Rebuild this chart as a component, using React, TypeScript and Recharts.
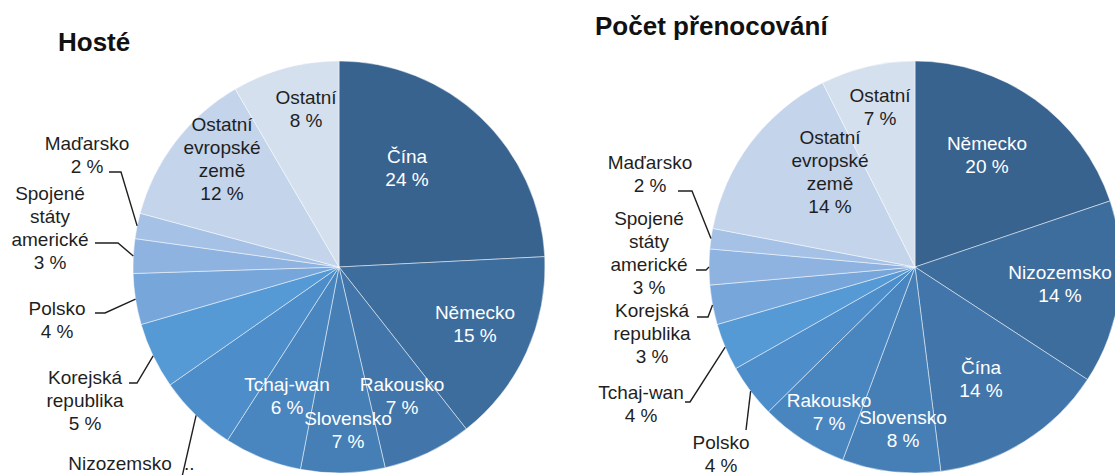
import React from 'react';
import { PieChart, Pie, Cell } from 'recharts';

// Hosté (guests), clockwise from 12 o'clock
const guestNames = [
  'Čína', 'Německo', 'Rakousko', 'Slovensko', 'Tchaj-wan', 'Nizozemsko',
  'Korejská republika', 'Polsko', 'Spojené státy americké', 'Maďarsko',
  'Ostatní evropské země', 'Ostatní',
];
const guestValues = [24.2, 15.2, 7.0, 6.6, 6.1, 6.2, 5.2, 4.0, 2.7, 2.0, 12.4, 8.4];
const guestPct = [24, 15, 7, 7, 6, 6, 5, 4, 3, 2, 12, 8];

// Počet přenocování (overnight stays)
const nightNames = [
  'Německo', 'Nizozemsko', 'Čína', 'Slovensko', 'Rakousko', 'Polsko',
  'Tchaj-wan', 'Korejská republika', 'Spojené státy americké', 'Maďarsko',
  'Ostatní evropské země', 'Ostatní',
];
const nightValues = [19.8, 14.4, 13.8, 7.7, 6.9, 4.2, 3.7, 3.1, 2.8, 1.6, 14.6, 7.4];
const nightPct = [20, 14, 14, 8, 7, 4, 4, 3, 3, 2, 14, 7];

const sliceColors = [
  '#38638f', '#3d6d9d', '#4276aa', '#457fb6', '#4986c0', '#4d8eca',
  '#5599d5', '#77a6db', '#8fb3e0', '#a5c1e6', '#c3d4eb', '#d5e0ef',
];

const FONT = '"Liberation Sans", Arial, sans-serif';
const LINE_H = 23;
const R = 206;
const DARK = '#1f1f1f';

type LabelPos = { dx: number; dy: number; out?: boolean; dark?: boolean; hook?: number[][]; clip?: boolean };

// label anchors relative to the pie centre
const guestLayout: LabelPos[] = [
  { dx: 68, dy: -111 },
  { dx: 136, dy: 45 },
  { dx: 63, dy: 117 },
  { dx: 9, dy: 151 },
  { dx: -52, dy: 117 },
  { dx: -219, dy: 196, out: true, clip: true, hook: [[-157, 210]] },
  { dx: -254, dy: 110, out: true, hook: [[-210, 116], [-202, 116]] },
  { dx: -282, dy: 41, out: true, hook: [[-244, 46], [-234, 46]] },
  { dx: -289, dy: -74, out: true, hook: [[-244, -24], [-221, -24]] },
  { dx: -252, dy: -124, out: true, hook: [[-230, -95], [-218, -95]] },
  { dx: -117, dy: -143, dark: true },
  { dx: -33, dy: -170, dark: true },
];

const nightLayout: LabelPos[] = [
  { dx: 72, dy: -124 },
  { dx: 145, dy: 5 },
  { dx: 66, dy: 100 },
  { dx: -12, dy: 150 },
  { dx: -86, dy: 133 },
  { dx: -194, dy: 175, out: true, hook: [[-169, 163]] },
  { dx: -274, dy: 125, out: true, hook: [[-230, 135], [-225, 135]] },
  { dx: -263, dy: 43, out: true, hook: [[-218, 50], [-207, 50]] },
  { dx: -266, dy: -49, out: true, hook: [[-219, 3], [-209, 3]] },
  { dx: -265, dy: -105, out: true, hook: [[-237, -76], [-223, -76]] },
  { dx: -85, dy: -130, dark: true },
  { dx: -35, dy: -172, dark: true },
];

const RAD = Math.PI / 180;

const makeLabel = (layout: LabelPos[], pct: number[]) => (props: any) => {
  const { cx, cy, midAngle, outerRadius, index, name } = props;
  const pos = layout[index];
  const x = cx + pos.dx;
  const y = cy + pos.dy;
  const lines: string[] = pos.clip ? [name] : [...String(name).split(' '), `${pct[index]} %`];
  const color = pos.out || pos.dark ? DARK : '#ffffff';
  let leader = null;
  if (pos.out && pos.hook) {
    const ex = cx + outerRadius * Math.cos(-midAngle * RAD);
    const ey = cy + outerRadius * Math.sin(-midAngle * RAD);
    const pts = [...pos.hook.map(([hx, hy]) => `${cx + hx},${cy + hy}`), `${ex},${ey}`].join(' ');
    leader = <polyline points={pts} fill="none" stroke={DARK} strokeWidth={1.4} />;
  }
  return (
    <g key={`lbl-${index}`}>
      {leader}
      <text x={x} y={y} fill={color} textAnchor="middle" fontFamily={FONT} fontSize={19}>
        {lines.map((t, i) => (
          <tspan key={i} x={x} y={y + i * LINE_H} dy="0.35em">{t}</tspan>
        ))}
      </text>
      {pos.clip && (
        <text x={cx - 155} y={y} dy="0.35em" fill={color} fontFamily={FONT} fontSize={19}>..</text>
      )}
    </g>
  );
};

const guestData = guestNames.map((name, i) => ({ name, value: guestValues[i] }));
const nightData = nightNames.map((name, i) => ({ name, value: nightValues[i] }));

const titleStyle: React.CSSProperties = {
  position: 'absolute',
  fontFamily: FONT,
  fontWeight: 'bold',
  fontSize: 26,
  lineHeight: '26px',
  color: '#111',
  whiteSpace: 'nowrap',
};

export default function App() {
  return (
    <div style={{ position: 'absolute', left: 0, top: 0, width: 1115, height: 475, overflow: 'hidden', background: '#fff' }}>
      <PieChart width={1115} height={475} margin={{ top: 0, right: 0, bottom: 0, left: 0 }}>
        <Pie
          data={guestData}
          dataKey="value"
          nameKey="name"
          cx={339}
          cy={267}
          outerRadius={R}
          startAngle={90}
          endAngle={-270}
          stroke="#ffffff"
          strokeWidth={0.8}
          strokeOpacity={0.6}
          label={makeLabel(guestLayout, guestPct)}
          labelLine={false}
          isAnimationActive={false}
        >
          {guestData.map((d, i) => <Cell key={d.name} fill={sliceColors[i]} />)}
        </Pie>
        <Pie
          data={nightData}
          dataKey="value"
          nameKey="name"
          cx={915}
          cy={267}
          outerRadius={R}
          startAngle={90}
          endAngle={-270}
          stroke="#ffffff"
          strokeWidth={0.8}
          strokeOpacity={0.6}
          label={makeLabel(nightLayout, nightPct)}
          labelLine={false}
          isAnimationActive={false}
        >
          {nightData.map((d, i) => <Cell key={d.name} fill={sliceColors[i]} />)}
        </Pie>
      </PieChart>
      <div style={{ ...titleStyle, left: 58, top: 29 }}>Hosté</div>
      <div style={{ ...titleStyle, left: 595, top: 13 }}>Počet přenocování</div>
    </div>
  );
}
